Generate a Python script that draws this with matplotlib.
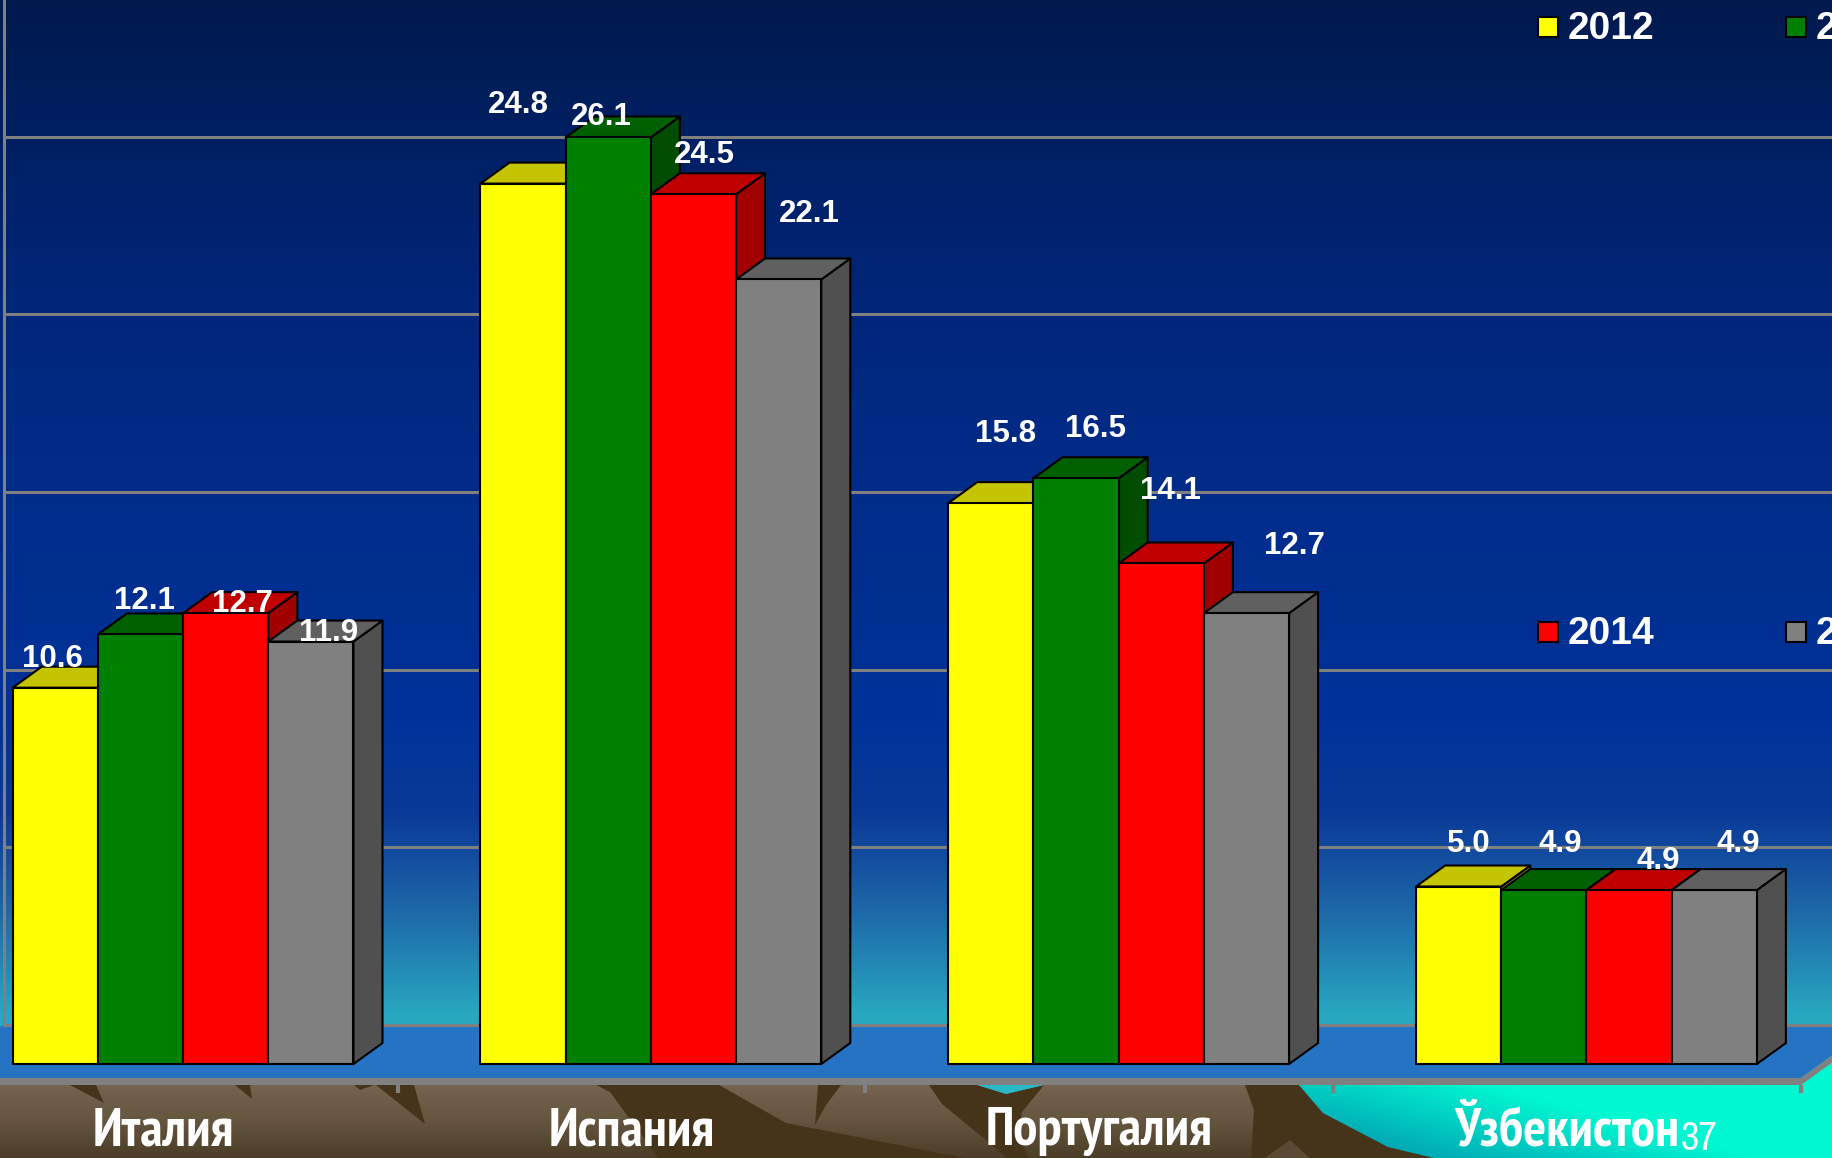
import numpy as np
import matplotlib
matplotlib.use('Agg')
import matplotlib.pyplot as plt
from matplotlib.patches import Polygon, Rectangle
from matplotlib import font_manager as fm
from matplotlib.font_manager import FontProperties
from matplotlib.colors import to_rgb

# ---------------- data ----------------
categories = ['Италия', 'Испания', 'Португалия', 'Ўзбекистон']
years = ['2012', '2013', '2014', '2015']
v2012 = [10.6, 24.8, 15.8, 5.0]
v2013 = [12.1, 26.1, 16.5, 4.9]
v2014 = [12.7, 24.5, 14.1, 4.9]
v2015 = [11.9, 22.1, 12.7, 4.9]
grid_values = [0, 5, 10, 15, 20, 25]
slide_number = '37'

series = [v2012, v2013, v2014, v2015]

# ---------------- styles ----------------
front_colors = ['#FFFF00', '#008000', '#FF0000', '#808080']
top_colors = ['#C4C400', '#005F00', '#C00000', '#606060']
side_colors = ['#A0A000', '#004C00', '#A00000', '#505050']

# label offsets (px): horizontal shift, height above the bar's back-top edge
label_dx = [[-3, -5, 15, 10], [4, -7, 19, 16], [17, 11, 9, 29], [18, 31, 48, 24]]
label_dy = [[0, 50, 40, 13], [4, -9, 20, 17], [-20, 10, 43, 0], [-20, 36, 38, 17]]

W, H = 1833, 1158
PX_X = 467.8      # px per category
PX_Y = 35.5       # px per value unit
X0PX = 183.1      # px of category 0 (bar front plane)
Y0PX = 1064.0     # px (from top) of value 0 (bar front plane)
DX = 29.0 / PX_X  # depth offset per bar depth
DY = 21.0 / PX_Y
D_FRONT = -14.0 / 21.0
D_WALL = 39.5 / 21.0
BAR_W = 85.2 / PX_X
SLAB = 7.0 / PX_Y


def P(x, v, d):
    return (x + d * DX, v + d * DY)


# ---- fonts: look for a condensed / narrow face for the category labels ----
def find_condensed(bold):
    best = None
    for f in fm.fontManager.ttflist:
        is_narrow = ('Narrow' in f.name) or ('Condensed' in f.name) or \
            (str(f.stretch) in ('condensed', 'semi-condensed', 'extra-condensed', '300', '400'))
        if not is_narrow:
            continue
        w = f.weight if isinstance(f.weight, int) else (700 if 'bold' in str(f.weight) else 400)
        if str(f.style) != 'normal':
            continue
        if (w >= 600) != bold:
            continue
        if 'Liberation Sans Narrow' in f.name:
            score = 3
        elif 'Arial' in f.name or 'Narrow' in f.name:
            score = 2
        else:
            score = 1
        if best is None or score > best[0]:
            best = (score, f.fname)
    return best[1] if best else None


cond_bold = find_condensed(True)
cond_reg = find_condensed(False)
if cond_bold:
    cat_prop = FontProperties(fname=cond_bold, size=39)
else:
    cat_prop = FontProperties(family=['Liberation Sans', 'DejaVu Sans'], weight='bold', size=28.5)
if cond_reg:
    sub_prop = FontProperties(fname=cond_reg, size=29)
else:
    sub_prop = FontProperties(family=['Liberation Sans', 'DejaVu Sans'], size=23)
val_family = ['Liberation Sans', 'DejaVu Sans']

fig = plt.figure(figsize=(W / 100, H / 100), dpi=100)

# ---------------- background (pixel coordinates) ----------------
bg = fig.add_axes([0, 0, 1, 1])
bg.set_xlim(0, W)
bg.set_ylim(H, 0)
bg.axis('off')

stops = [(0, '#001a4e'), (300, '#00267a'), (550, '#002e8e'), (720, '#00329a'),
         (813, '#0a3a98'), (863, '#1450a0'), (913, '#1e6aa8'), (963, '#2288b4'),
         (1013, '#28a8c0'), (1158, '#2aa8c0')]
ys = np.arange(H)
sy = [s[0] for s in stops]
cols = np.array([to_rgb(s[1]) for s in stops])
grad = np.stack([np.interp(ys, sy, cols[:, k]) for k in range(3)], axis=-1)[:, None, :]
bg.imshow(grad, extent=(0, W, H, 0), aspect='auto', zorder=0, interpolation='bilinear')

# landscape
ly = np.linspace(1050, H, 60)
lstops_y = [1050, 1085, 1120, 1158]
lcols = np.array([to_rgb(c) for c in ['#746450', '#746450', '#66563f', '#4c3d27']])
lgrad = np.stack([np.interp(ly, lstops_y, lcols[:, k]) for k in range(3)], axis=-1)[:, None, :]
bg.imshow(lgrad, extent=(0, W, H, 1050), aspect='auto', zorder=1, interpolation='bilinear')

dark = '#45341a'
dark_polys = [
    [(70, 1085), (96, 1085), (104, 1103)],
    [(235, 1085), (250, 1085), (252, 1099)],
    [(354, 1085), (374, 1085), (360, 1090)],
    [(376, 1085), (414, 1085), (425, 1124)],
    [(596, 1085), (719, 1085), (786, 1123), (974, 1160), (660, 1160), (610, 1092)],
    [(818, 1085), (841, 1085), (826, 1105), (815, 1125)],
    [(929, 1085), (977, 1085), (1006, 1094), (1044, 1085), (1022, 1112), (1018, 1135),
     (1030, 1160), (1010, 1160), (942, 1104)],
    [(1245, 1085), (1299, 1085), (1323, 1113), (1388, 1147), (1442, 1160), (1251, 1160),
     (1254, 1110)],
]
for pts in dark_polys:
    bg.add_patch(Polygon(pts, closed=True, facecolor=dark, edgecolor='none', zorder=2))
bg.add_patch(Polygon([(1262, 1160), (1290, 1140), (1312, 1160)], closed=True,
                     facecolor='#5a4a33', edgecolor='none', zorder=2))
bg.add_patch(Polygon([(977, 1085), (1044, 1085), (1006, 1094)], closed=True,
                     facecolor='#2ab8c8', edgecolor='none', zorder=3))

# cyan region with gradient
cyan_pts = [(1299, 1050), (1833, 1050), (1833, 1160), (1442, 1160), (1388, 1147), (1323, 1113),
            (1299, 1085)]
gx = np.linspace(1290, W, 200)
gy = np.linspace(1050, H, 60)
GX, GY = np.meshgrid(gx, gy)
t = np.clip(((GX - 1330) / 300.0) * 0.7 + ((H - GY) / 70.0) * 0.6, 0, 1)
c0 = np.array(to_rgb('#0092ac'))
c1 = np.array(to_rgb('#00f8d2'))
cimg = c0[None, None, :] * (1 - t[..., None]) + c1[None, None, :] * t[..., None]
im = bg.imshow(cimg, extent=(1290, W, H, 1050), aspect='auto', zorder=3, interpolation='bilinear')
cpatch = Polygon(cyan_pts, closed=True, transform=bg.transData, facecolor='none', edgecolor='none')
bg.add_patch(cpatch)
im.set_clip_path(cpatch)

# ---------------- chart axes (data coordinates) ----------------
ax = fig.add_axes([0, 0, 1, 1])
ax.set_xlim((0 - X0PX) / PX_X, (W - X0PX) / PX_X)
ax.set_ylim((Y0PX - H) / PX_Y, Y0PX / PX_Y)
ax.axis('off')
ax.patch.set_visible(False)

ncat = len(categories)
left_b, right_b = -0.5, ncat - 0.5
grid_color = '#808080'

# back wall gridlines and wall edge
x_wall = P(left_b, 0, D_WALL)[0]
for g in grid_values:
    yg = P(left_b, g, D_WALL)[1]
    ax.plot([x_wall, ax.get_xlim()[1] + 1], [yg, yg], color=grid_color, lw=2.2, zorder=2,
            solid_capstyle='butt')
ax.plot([x_wall, x_wall], [P(left_b, 0, D_WALL)[1], ax.get_ylim()[1] + 1], color=grid_color,
        lw=2.2, zorder=2)

# floor slab
floor_top = [P(left_b, 0, D_FRONT), P(right_b, 0, D_FRONT), P(right_b, 0, D_WALL), P(left_b, 0, D_WALL)]
ax.add_patch(Polygon(floor_top, closed=True, facecolor='#2673c4', edgecolor='none', zorder=3))
floor_front = [P(left_b, 0, D_FRONT), P(right_b, 0, D_FRONT), P(right_b, -SLAB, D_FRONT),
               P(left_b, -SLAB, D_FRONT)]
ax.add_patch(Polygon(floor_front, closed=True, facecolor=grid_color, edgecolor='none', zorder=3))
floor_side = [P(right_b, 0, D_FRONT), P(right_b, 0, D_WALL), P(right_b, -SLAB, D_WALL),
              P(right_b, -SLAB, D_FRONT)]
ax.add_patch(Polygon(floor_side, closed=True, facecolor=grid_color, edgecolor='none', zorder=3))
yb = P(left_b, 0, D_WALL)[1]
ax.plot([x_wall, ax.get_xlim()[1] + 1], [yb, yb], color=grid_color, lw=2.2, zorder=3.5)

# category ticks
for i in range(ncat):
    xb, yt = P(i + 0.5, -SLAB, D_FRONT)
    ax.plot([xb, xb], [yt, yt - 8.0 / PX_Y], color=grid_color, lw=3, zorder=3,
            solid_capstyle='butt')

# bars
for i in range(ncat):
    for j, vals in enumerate(series):
        v = vals[i]
        x0 = i - 2 * BAR_W + j * BAR_W
        z = 10 + j * 3
        side = [P(x0 + BAR_W, 0, 0), P(x0 + BAR_W, 0, 1), P(x0 + BAR_W, v, 1), P(x0 + BAR_W, v, 0)]
        top = [P(x0, v, 0), P(x0, v, 1), P(x0 + BAR_W, v, 1), P(x0 + BAR_W, v, 0)]
        ax.add_patch(Polygon(side, closed=True, facecolor=side_colors[j], edgecolor='black',
                             lw=1.5, joinstyle='round', zorder=z))
        ax.add_patch(Polygon(top, closed=True, facecolor=top_colors[j], edgecolor='black',
                             lw=1.5, joinstyle='round', zorder=z + 1))
        ax.add_patch(Rectangle((x0, 0), BAR_W, v, facecolor=front_colors[j], edgecolor='black',
                               lw=1.5, joinstyle='round', zorder=z + 2))
        ax.annotate(f'{v:.1f}', xy=(x0 + BAR_W / 2, v + DY),
                    xytext=(label_dx[j][i] * 0.72, label_dy[j][i] * 0.72),
                    textcoords='offset points', ha='center', va='baseline',
                    color='white', fontsize=22.5, fontweight='bold', family=val_family,
                    zorder=50)

# category labels
label_y = (Y0PX - 1145) / PX_Y
last_label = None
for i, c in enumerate(categories):
    xl = P(i, 0, D_FRONT)[0]
    last_label = ax.text(xl, label_y, c, ha='center', va='baseline', color='white',
                         fontproperties=cat_prop, zorder=50)
ax.annotate(slide_number, xy=(1, 0), xycoords=last_label, xytext=(1, 4),
            textcoords='offset points', ha='left', va='baseline', color='white',
            fontproperties=sub_prop, zorder=50)

# legend (2x2 grid, partly beyond the right edge as in the original slide)
leg_cols_x = [1538, 1786]
leg_rows_y = [27, 632]
for k, yr in enumerate(years):
    r, cidx = divmod(k, 2)
    sx, syc = leg_cols_x[cidx], leg_rows_y[r]
    bg.add_patch(Rectangle((sx, syc - 10), 20, 20, facecolor=front_colors[k], edgecolor='black',
                           lw=1.5, zorder=20))
    bg.text(sx + 30, syc + 12, yr, ha='left', va='baseline', color='white', fontsize=28,
            fontweight='bold', family=val_family, zorder=20)

fig.savefig('out.png', dpi=100)
